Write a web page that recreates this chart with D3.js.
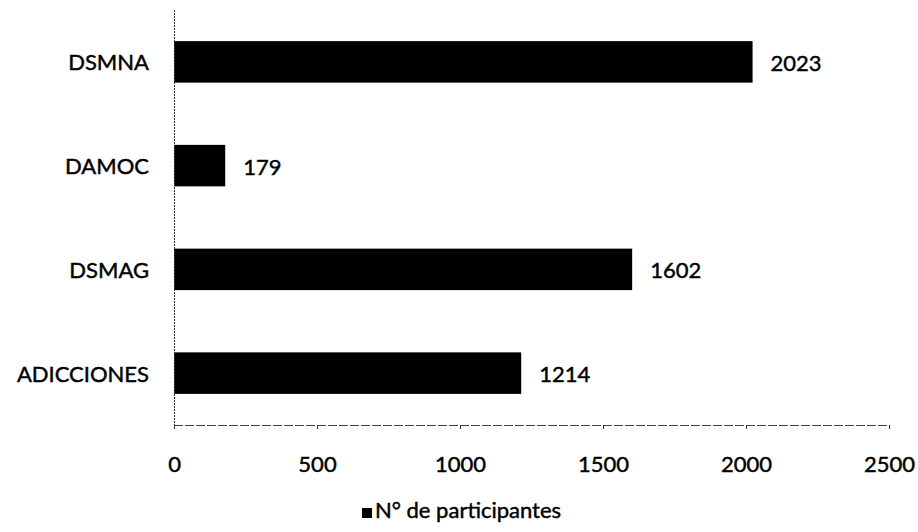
<!DOCTYPE html>
<html>
<head>
<meta charset="utf-8">
<script src="https://cdn.jsdelivr.net/npm/d3@7/dist/d3.min.js"></script>
<style>
  html, body { margin: 0; padding: 0; background: #fff; }
  svg text { font-family: Lato, "Open Sans", sans-serif; fill: #000; stroke: #000; stroke-width: 0.45px; }
</style>
</head>
<body>
<svg id="chart" width="918" height="532"></svg>
<script>
// Participants per programme
const categories = ["DSMNA", "DAMOC", "DSMAG", "ADICCIONES"];
const participants = [2023, 179, 1602, 1214];
const xTicks = [0, 500, 1000, 1500, 2000, 2500];
const seriesName = "N° de participantes";

const svg = d3.select("#chart");
const plot = { left: 174, right: 889, top: 10, bottom: 425 };

const x = d3.scaleLinear().domain([0, 2500]).range([plot.left, plot.right]);
const y = d3.scaleBand().domain(categories)
  .range([plot.top, plot.bottom])
  .paddingInner(0.6).paddingOuter(0.3);

// Bars
svg.append("g").selectAll("rect")
  .data(categories)
  .join("rect")
  .attr("x", x(0))
  .attr("y", d => y(d))
  .attr("width", (d, i) => x(participants[i]) - x(0))
  .attr("height", y.bandwidth())
  .attr("fill", "#000");

// Value labels
svg.append("g").selectAll("text")
  .data(categories)
  .join("text")
  .attr("x", (d, i) => x(participants[i]) + 18)
  .attr("y", d => y(d) + y.bandwidth() / 2 + 9)
  .attr("font-size", 22)
  .text((d, i) => participants[i]);

// Category axis (left)
const yAxis = svg.append("g")
  .attr("transform", `translate(${plot.left},0)`)
  .call(d3.axisLeft(y).tickSize(0).tickPadding(25));
yAxis.select(".domain")
  .attr("d", `M0.5,${plot.top}V${plot.bottom + 3}`)
  .attr("stroke", "#333").attr("stroke-dasharray", "2,1");
yAxis.selectAll("text").attr("font-size", 22).attr("dy", "0.38em");

// Value axis (bottom)
const xAxis = svg.append("g")
  .attr("transform", `translate(0,${plot.bottom})`)
  .call(d3.axisBottom(x).tickValues(xTicks).tickSize(4).tickPadding(25).tickFormat(d3.format("d")));
xAxis.select(".domain")
  .attr("d", `M${plot.left},0.5H${plot.right}`)
  .attr("stroke", "#444").attr("stroke-dasharray", "9,2");
xAxis.selectAll(".tick line").attr("stroke", "#333");
xAxis.selectAll("text").attr("font-size", 22).attr("dy", "0.8em");

// Legend
const legend = svg.append("g").attr("transform", "translate(362,508)");
legend.append("rect").attr("width", 10).attr("height", 10).attr("fill", "#000");
legend.append("text").attr("x", 13).attr("y", 10).attr("font-size", 22).text(seriesName);
</script>
</body>
</html>
